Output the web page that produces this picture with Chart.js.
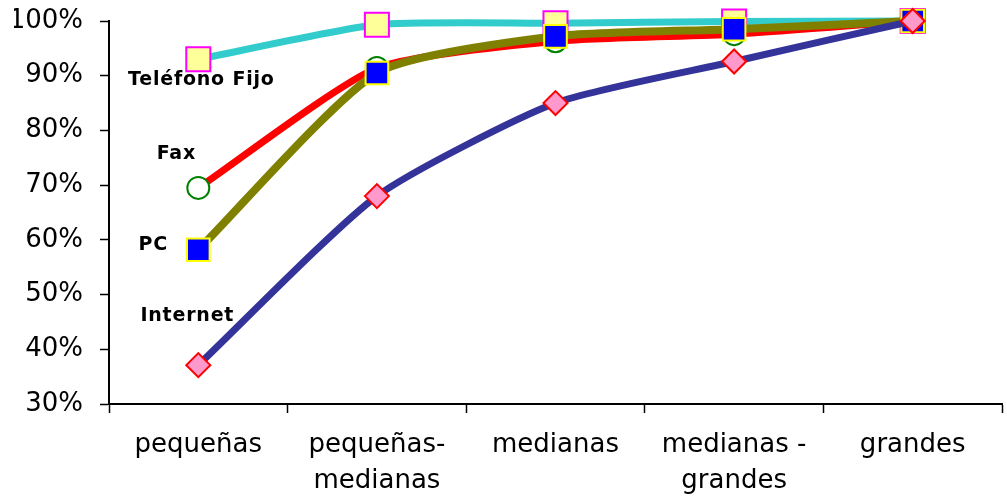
<!DOCTYPE html>
<html>
<head>
<meta charset="utf-8">
<script src="https://cdn.jsdelivr.net/npm/chart.js@4"></script>
<style>
  html, body { margin: 0; padding: 0; background: #fff; overflow: hidden; }
  /* a bit wider than the window: Chart.js keeps a right margin for the last label */
  #wrap { width: 1021px; height: 496px; }
</style>
</head>
<body>
<div id="wrap"><canvas id="chart"></canvas></div>
<script>
const categories = ['pequeñas', ['pequeñas-', 'medianas'], 'medianas', ['medianas -', 'grandes'], 'grandes'];
const telefonoFijo = [93, 99.3, 99.6, 99.9, 100];
const fax = [69.5, 91.4, 96.3, 97.6, 100];
const pc = [58.2, 90.5, 97.2, 98.5, 100];
const internet = [37.1, 68, 85, 92.6, 100];
const seriesNames = ['Teléfono Fijo', 'Fax', 'PC', 'Internet'];

// series name labels, placed relative to the first point of each line
const seriesLabels = {
  id: 'seriesLabels',
  afterDatasetsDraw(chart) {
    const ctx = chart.ctx;
    const x = chart.scales.x, y = chart.scales.y;
    const spots = [
      [telefonoFijo, 3, 21],
      [fax, -22, -34],
      [pc, -45, -5],
      [internet, -11, -49]
    ];
    ctx.save();
    ctx.font = 'bold 19px "DejaVu Sans"';
    ctx.letterSpacing = '0.8px';
    ctx.fillStyle = '#000';
    ctx.textAlign = 'center';
    ctx.textBaseline = 'middle';
    spots.forEach((s, i) => {
      const px = x.getPixelForValue(0) + s[1];
      const py = y.getPixelForValue(s[0][0]) + s[2];
      ctx.fillText(seriesNames[i], px, py);
    });
    ctx.restore();
  }
};

new Chart(document.getElementById('chart'), {
  type: 'line',
  data: {
    labels: categories,
    datasets: [
      {
        label: seriesNames[0], data: telefonoFijo, order: 3,
        borderColor: '#33CCCC', borderWidth: 7,
        pointStyle: 'rect', pointRadius: 17, pointBorderWidth: 2,
        pointBackgroundColor: '#FFFF99', pointBorderColor: '#FF00FF'
      },
      {
        label: seriesNames[1], data: fax, order: 2,
        borderColor: '#FF0000', borderWidth: 7,
        pointStyle: 'circle', pointRadius: 11, pointBorderWidth: 2,
        pointBackgroundColor: '#FFFFFF', pointBorderColor: '#008000'
      },
      {
        label: seriesNames[2], data: pc, order: 1,
        borderColor: '#808000', borderWidth: 8,
        pointStyle: 'rect', pointRadius: 16, pointBorderWidth: 2,
        pointBackgroundColor: '#0000FF', pointBorderColor: '#FFFF00'
      },
      {
        label: seriesNames[3], data: internet, order: 0,
        borderColor: '#333399', borderWidth: 7,
        pointStyle: 'rectRot', pointRadius: 12, pointBorderWidth: 2,
        pointBackgroundColor: '#FF99CC', pointBorderColor: '#FF0000'
      }
    ]
  },
  options: {
    responsive: true,
    maintainAspectRatio: false,
    animation: false,
    layout: { padding: { left: 14, right: 4, top: 21, bottom: 0 } },
    elements: { line: { tension: 0.2 } },
    datasets: { line: { clip: false } },
    plugins: {
      legend: { display: false },
      tooltip: { enabled: false }
    },
    scales: {
      x: {
        offset: true,
        afterFit(scale) {
          scale.height = 92;
          scale.paddingLeft = 0;
          scale.paddingRight = 0;
        },
        grid: {
          offset: true, drawOnChartArea: false, drawTicks: true,
          tickLength: 9, tickColor: '#000', tickWidth: 1.5
        },
        border: { color: '#000', width: 2 },
        ticks: {
          color: '#000', padding: 14, maxRotation: 0, autoSkip: false,
          font: { family: '"DejaVu Sans"', size: 26, lineHeight: 1.38 }
        }
      },
      y: {
        min: 30, max: 100,
        afterFit(scale) {
          scale.width = 95;
          scale.paddingTop = 0;
          scale.paddingBottom = 0;
        },
        grid: {
          drawOnChartArea: false, drawTicks: true,
          tickLength: 9, tickColor: '#000', tickWidth: 1.5
        },
        border: { color: '#000', width: 2 },
        ticks: {
          stepSize: 10, color: '#000', padding: 17,
          font: { family: '"DejaVu Sans"', size: 26 },
          callback: v => v + '%'
        }
      }
    }
  },
  plugins: [seriesLabels]
});
</script>
</body>
</html>
